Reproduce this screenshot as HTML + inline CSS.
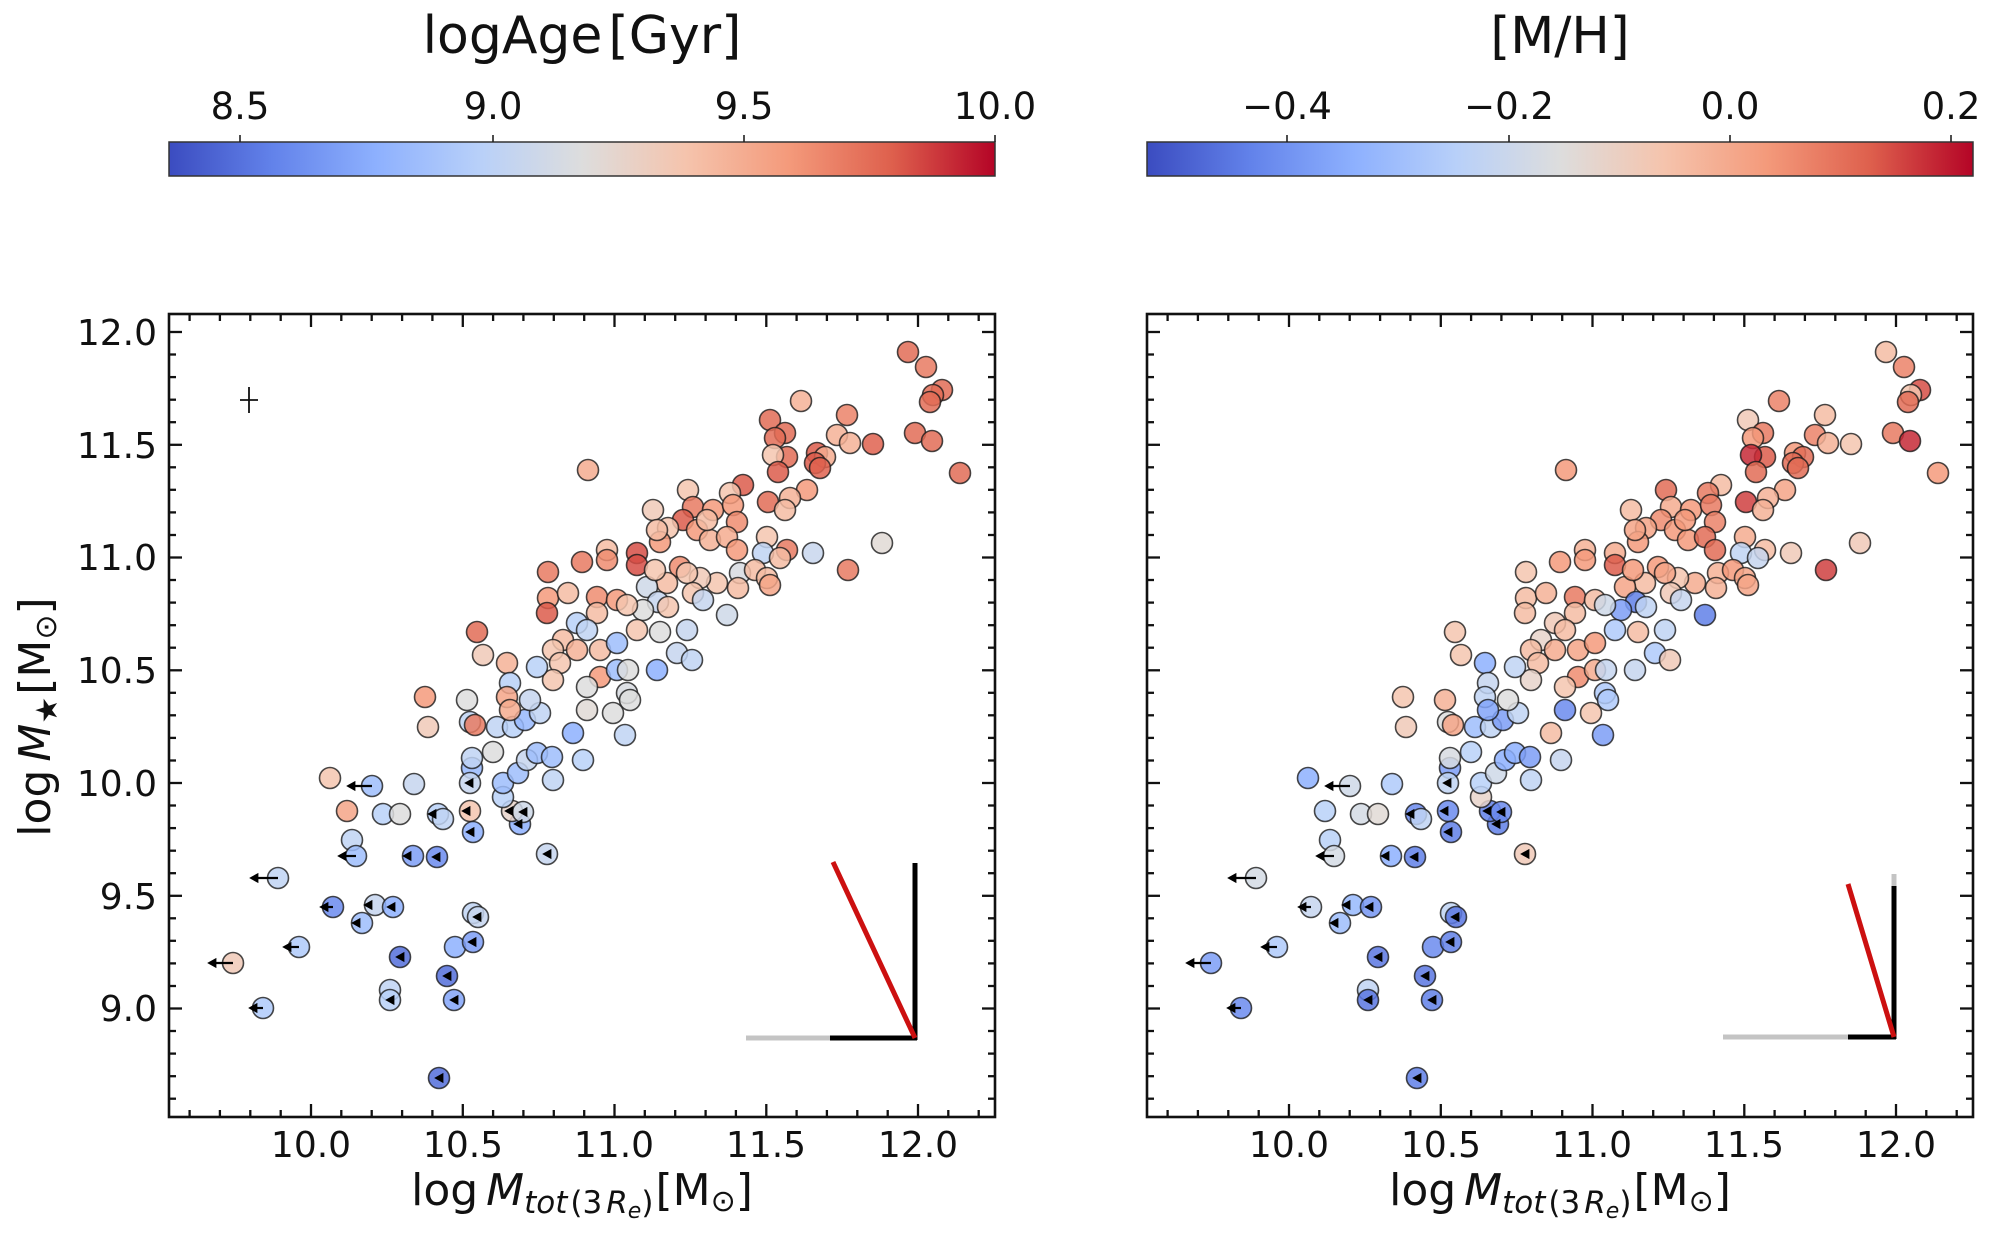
<!DOCTYPE html>
<html><head><meta charset="utf-8"><style>
html,body{margin:0;padding:0;background:#fff;}
svg{display:block;}
text{font-family:"DejaVu Sans","Liberation Sans",sans-serif;fill:#111;}
</style></head><body>
<svg id="fig" width="2000" height="1239" viewBox="0 0 2000 1239">
<defs>
<linearGradient id="cw" x1="0" x2="1" y1="0" y2="0">
<stop offset="0" stop-color="#3b4cc0"/><stop offset="0.125" stop-color="#6282ea"/><stop offset="0.25" stop-color="#8db0fe"/><stop offset="0.375" stop-color="#b8d0f9"/><stop offset="0.5" stop-color="#dddddd"/><stop offset="0.625" stop-color="#f5c4ad"/><stop offset="0.75" stop-color="#f49a7b"/><stop offset="0.875" stop-color="#de604d"/><stop offset="1" stop-color="#b40426"/>
</linearGradient>
</defs>
<rect width="2000" height="1239" fill="#fff"/>

<!-- colorbar titles -->
<text x="582" y="53" font-size="52" text-anchor="middle">logAge<tspan dx="6">[Gyr]</tspan></text>
<text x="1560" y="53" font-size="51" text-anchor="middle">[M/H]</text>

<!-- colorbars -->
<rect x="169" y="142" width="826" height="34" fill="url(#cw)" stroke="#333" stroke-width="1.5"/>
<rect x="1147" y="142" width="826" height="34" fill="url(#cw)" stroke="#333" stroke-width="1.5"/>
<g stroke="#222" stroke-width="1.6">
<line x1="240" y1="135" x2="240" y2="142"/><line x1="493" y1="135" x2="493" y2="142"/><line x1="744" y1="135" x2="744" y2="142"/><line x1="995" y1="135" x2="995" y2="142"/>
<line x1="1287" y1="135" x2="1287" y2="142"/><line x1="1509" y1="135" x2="1509" y2="142"/><line x1="1730" y1="135" x2="1730" y2="142"/><line x1="1951" y1="135" x2="1951" y2="142"/>
</g>
<g font-size="37" text-anchor="middle">
<text x="240" y="119">8.5</text><text x="493" y="119">9.0</text><text x="744" y="119">9.5</text><text x="995" y="119">10.0</text>
<text x="1287" y="119">−0.4</text><text x="1509" y="119">−0.2</text><text x="1730" y="119">0.0</text><text x="1951" y="119">0.2</text>
</g>

<!-- axes frames -->
<rect x="169" y="314" width="826" height="803" fill="none" stroke="#111" stroke-width="2.6"/>
<rect x="1147" y="314" width="826" height="803" fill="none" stroke="#111" stroke-width="2.6"/>
<g id="ticks" stroke="#111" stroke-width="2.3"></g>

<!-- y tick labels (left panel only) -->
<g font-size="36" text-anchor="end">
<text x="157" y="345">12.0</text><text x="157" y="458">11.5</text><text x="157" y="570">11.0</text><text x="157" y="683">10.5</text><text x="157" y="796">10.0</text><text x="157" y="909">9.5</text><text x="157" y="1021">9.0</text>
</g>
<!-- x tick labels -->
<g font-size="36" text-anchor="middle">
<text x="311" y="1157">10.0</text><text x="463" y="1157">10.5</text><text x="614" y="1157">11.0</text><text x="766" y="1157">11.5</text><text x="918" y="1157">12.0</text>
<text x="1289" y="1157">10.0</text><text x="1441" y="1157">10.5</text><text x="1592" y="1157">11.0</text><text x="1744" y="1157">11.5</text><text x="1896" y="1157">12.0</text>
</g>

<!-- axis labels -->
<text x="582" y="1205" font-size="44" text-anchor="middle">log<tspan dx="8" font-style="italic">M</tspan><tspan font-size="31" dy="8" font-style="italic">tot</tspan><tspan font-size="31" dx="3">(3</tspan><tspan font-size="31" font-style="italic" dx="4">R</tspan><tspan font-size="22" dy="5" font-style="italic">e</tspan><tspan font-size="31" dy="-5">)</tspan><tspan dy="-8" dx="2">[M</tspan><tspan font-size="30" dy="6">⊙</tspan><tspan dy="-6">]</tspan></text>
<text x="1560" y="1205" font-size="44" text-anchor="middle">log<tspan dx="8" font-style="italic">M</tspan><tspan font-size="31" dy="8" font-style="italic">tot</tspan><tspan font-size="31" dx="3">(3</tspan><tspan font-size="31" font-style="italic" dx="4">R</tspan><tspan font-size="22" dy="5" font-style="italic">e</tspan><tspan font-size="31" dy="-5">)</tspan><tspan dy="-8" dx="2">[M</tspan><tspan font-size="30" dy="6">⊙</tspan><tspan dy="-6">]</tspan></text>
<text transform="translate(50,717) rotate(-90)" font-size="44" text-anchor="middle">log<tspan dx="8" font-style="italic">M</tspan><tspan font-size="30" dy="7">★</tspan><tspan dy="-7" dx="2">[M</tspan><tspan font-size="30" dy="6">⊙</tspan><tspan dy="-6">]</tspan></text>

<!-- error cross -->
<path d="M240 400H258M249 387V413" stroke="#111" stroke-width="1.8" fill="none"/>

<!-- points -->
<g id="pts" stroke="#1a1a1a" stroke-width="1.6" stroke-opacity="0.8" fill-opacity="0.85"></g>
<g id="arr" stroke="#000" stroke-width="2.2" fill="#000"></g>

<!-- vectors left -->
<g stroke-width="5" fill="none">
<line x1="746" y1="1038" x2="830" y2="1038" stroke="#c4c4c4"/>
<line x1="830" y1="1038" x2="917" y2="1038" stroke="#000"/>
<line x1="915" y1="1040" x2="915" y2="863" stroke="#000"/>
<line x1="915" y1="1038" x2="833" y2="862" stroke="#cc1010"/>
<!-- vectors right -->
<line x1="1723" y1="1037" x2="1848" y2="1037" stroke="#c4c4c4"/>
<line x1="1848" y1="1037" x2="1896" y2="1037" stroke="#000"/>
<line x1="1894" y1="886" x2="1894" y2="874" stroke="#c4c4c4"/>
<line x1="1894" y1="1039" x2="1894" y2="886" stroke="#000"/>
<line x1="1894" y1="1037" x2="1848" y2="884" stroke="#cc1010"/>
</g>
</svg>
<script>
(function(){
var st=[[59,76,192],[98,130,234],[141,176,254],[184,208,249],[221,221,221],[245,196,173],[244,154,123],[222,96,77],[180,4,38]];
function cw(t){t=Math.max(0,Math.min(1,t));var s=t*8,i=Math.min(7,Math.floor(s)),f=s-i,a=st[i],b=st[i+1];var c=[];for(var k=0;k<3;k++)c.push(Math.round(a[k]+(b[k]-a[k])*f));return 'rgb('+c.join(',')+')';}
function X(v){return 311+(v-10)*303.5;}
function Y(v){return 332+(12-v)*225.5;}
var t='';
[0,978].forEach(function(off){
 for(var k=96;k<=122;k++){var x=(X(k/10)+off).toFixed(1),L=(k%5==0)?13:7;
  t+='<line x1="'+x+'" y1="1117" x2="'+x+'" y2="'+(1117-L)+'"/><line x1="'+x+'" y1="314" x2="'+x+'" y2="'+(314+L)+'"/>';}
 for(var k=86;k<=120;k++){var y=Y(k/10).toFixed(1),L=(k%5==0)?13:7;
  t+='<line x1="'+(169+off)+'" y1="'+y+'" x2="'+(169+off+L)+'" y2="'+y+'"/><line x1="'+(995+off)+'" y1="'+y+'" x2="'+(995+off-L)+'" y2="'+y+'"/>';}
});
document.getElementById('ticks').innerHTML=t;
var P=[
[908,352,.85,.65,0],[926,367,.82,.8,0],[942,390,.85,.9,0],[933,395,.85,.62,0],[930,402,.85,.85,0],
[915,433,.85,.82,0],[932,441,.85,.95,0],[960,473,.85,.75,0],[801,401,.68,.8,0],[770,420,.85,.6,0],
[847,415,.8,.65,0],[785,433,.85,.82,0],[775,438,.85,.75,0],[837,435,.68,.8,0],[850,443,.68,.68,0],
[873,444,.87,.62,0],[817,453,.88,.75,0],[825,457,.7,.85,0],[815,463,.88,.85,0],[820,468,.87,.85,0],
[787,457,.85,.88,0],[773,455,.62,.95,0],[778,472,.88,.85,0],[743,485,.88,.65,0],[688,490,.62,.85,0],
[730,493,.62,.82,0],[807,490,.75,.72,0],[768,502,.85,.92,0],[790,498,.68,.68,0],[785,510,.65,.68,0],
[653,510,.6,.65,0],[693,507,.82,.7,0],[683,520,.88,.78,0],[713,510,.75,.75,0],[733,505,.75,.82,0],
[737,522,.78,.8,0],[697,530,.75,.75,0],[710,540,.68,.75,0],[727,537,.7,.85,0],[737,550,.75,.85,0],
[668,528,.62,.72,0],[707,520,.65,.75,0],
[660,542,.75,.75,0],[657,530,.65,.72,0],[680,567,.78,.75,0],[637,553,.9,.7,0],
[637,565,.9,.88,0],[607,550,.65,.68,0],[607,560,.78,.75,0],[582,562,.82,.75,0],[548,572,.82,.62,0],
[588,470,.7,.75,0],[767,537,.62,.7,0],[763,553,.4,.4,0],[787,550,.82,.65,0],[780,558,.65,.42,0],
[813,553,.43,.6,0],[882,543,.52,.6,0],[848,570,.82,.92,0],[740,573,.48,.68,0],[755,570,.65,.75,0],
[767,578,.65,.72,0],[770,585,.72,.72,0],[738,588,.65,.68,0],[717,583,.62,.7,0],[700,578,.6,.62,0],
[687,573,.62,.72,0],[693,593,.62,.6,0],[703,600,.42,.42,0],[667,583,.65,.65,0],[647,587,.45,.72,0],
[655,570,.62,.75,0],[658,602,.42,.12,0],[643,610,.5,.2,0],[668,607,.62,.4,0],[727,615,.45,.12,0],
[548,598,.75,.65,0],[547,613,.88,.65,0],[568,593,.65,.68,0],[597,597,.78,.82,0],[617,600,.75,.65,0],
[627,605,.62,.45,0],[597,613,.65,.65,0],[577,623,.38,.6,0],[587,630,.4,.65,0],[563,640,.65,.55,0],
[553,650,.62,.65,0],[577,650,.68,.7,0],[600,650,.65,.72,0],[637,630,.62,.35,0],[660,632,.5,.65,0],
[687,630,.42,.4,0],[617,643,.3,.75,0],[677,653,.42,.35,0],[692,660,.4,.6,0],[657,670,.25,.42,0],
[560,663,.62,.65,0],[553,680,.62,.55,0],[600,677,.75,.78,0],[617,670,.3,.7,0],[628,670,.5,.42,0],
[587,687,.5,.62,0],[627,693,.48,.35,0],[630,700,.5,.35,0],[587,710,.52,.15,0],[613,713,.5,.62,0],
[477,632,.85,.62,0],[483,655,.6,.62,0],[507,663,.68,.25,0],[425,697,.75,.62,0],[467,700,.5,.68,0],
[428,727,.6,.6,0],[470,722,.4,.5,0],[475,725,.82,.72,0],[330,778,.62,.25,0],[372,786,.3,.45,347],
[414,784,.42,.35,0],[347,811,.72,.38,0],[383,814,.38,.47,0],[400,814,.5,.52,0],[438,814,.38,.15,428],
[443,819,.4,.4,0],[470,811,.62,.15,462],[473,832,.25,.12,466],[352,840,.4,.38,0],[356,856,.3,.47,338],
[413,856,.2,.25,403],[437,857,.15,.12,432],[278,878,.4,.47,250],[333,907,.15,.42,320],[375,905,.42,.28,364],
[393,907,.25,.18,387],[362,923,.3,.3,352],[299,947,.35,.35,283],[400,957,.08,.1,396],[455,947,.25,.15,0],
[473,942,.2,.12,468],[473,913,.4,.4,0],[478,917,.42,.1,473],[447,976,.08,.1,443],[390,990,.4,.4,0],
[390,1000,.38,.1,386],[454,1000,.22,.12,450],[263,1008,.35,.15,249],[233,963,.6,.2,208],[439,1078,.08,.12,435],
[547,854,.42,.6,543],[520,824,.25,.12,514],[512,811,.55,.12,505],[523,812,.45,.15,519],[503,797,.38,.55,0],
[503,783,.3,.38,0],[472,768,.28,.2,0],[470,783,.42,.4,465],[472,758,.4,.48,0],[493,752,.5,.38,0],
[518,773,.3,.45,0],[527,760,.42,.25,0],[537,753,.3,.25,0],[552,757,.3,.2,0],[553,780,.4,.4,0],
[583,760,.38,.42,0],[573,733,.25,.65,0],[625,735,.4,.2,0],[497,727,.4,.3,0],[513,727,.38,.4,0],
[525,720,.28,.2,0],[540,713,.4,.4,0],[530,700,.42,.5,0],[510,683,.38,.42,0],[507,697,.72,.4,0],
[510,710,.7,.22,0],[537,667,.38,.4,0]
];
var h='',a='';
[0,978].forEach(function(off){
 var ci=off?3:2;
 P.forEach(function(p){h+='<circle cx="'+(p[0]+off)+'" cy="'+p[1]+'" r="10.5" fill="'+cw(p[ci])+'"/>';});
 P.forEach(function(p){if(p[4]){var x=p[0]+off,tp=p[4]+off,y=p[1];
  if(x-tp>12){a+='<line x1="'+x+'" y1="'+y+'" x2="'+(tp+6)+'" y2="'+y+'"/>';}
  a+='<path stroke-width="0.8" d="M'+tp+' '+y+'L'+(tp+8)+' '+(y-4.5)+'L'+(tp+8)+' '+(y+4.5)+'Z"/>';}});
});
document.getElementById('pts').innerHTML=h;
document.getElementById('arr').innerHTML=a;
})();
</script>
</body></html>
